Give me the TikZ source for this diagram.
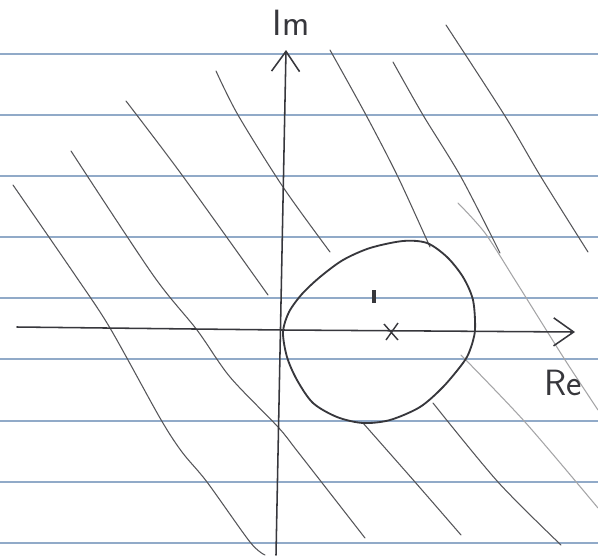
\documentclass[tikz,border=0pt]{standalone}
\usepackage{xcolor}
\usepackage{tikz}
\usetikzlibrary{arrows.meta}

\definecolor{ruled}{RGB}{145,170,200}
\definecolor{pen}{RGB}{55,55,60}

\begin{document}
\begin{tikzpicture}[
  x=0.025cm, y=-0.025cm,
  ruling/.style={ruled, line width=0.8pt},
  axis/.style={pen, line width=1.1pt, line cap=round,
               -{Straight Barb[length=0.5cm, width=0.7cm]}},
  hatch/.style={pen!85, line width=0.75pt, smooth, line cap=round},
  faint/.style={hatch, pen!45},
  contour/.style={pen, line width=1.3pt, smooth cycle},
  lbl/.style={font=\sffamily\fontsize{26}{26}\selectfont, text=pen, inner sep=0pt}
]
\fill[white] (0,0) rectangle (598,555);
\useasboundingbox (0,0) rectangle (598,555);

% ruled paper
\foreach \y in {54,115,176,237,298,359,421,482,543}
  \draw[ruling] (0,\y) -- (598,\y);

% hatching
\draw[hatch] plot coordinates {(13,185) (75,275) (110,328) (160,418) (182,452) (207,482) (250,542) (265,555)};
\draw[hatch] plot coordinates {(71,151) (153,275) (197,330) (230,377) (278,427) (298,452) (365,538)};
\draw[hatch] plot coordinates {(126,101) (182,175) (268,295)};
\draw[hatch] plot coordinates {(216,71) (238,115) (283,187) (330,252)};
\draw[hatch] plot coordinates {(330,50) (366,115) (398,177) (430,247)};
\draw[hatch] plot coordinates {(393,62) (423,115) (461,177) (500,253)};
\draw[faint] plot coordinates {(458,203) (485,233) (515,280) (540,320) (567,363) (598,410)};
\draw[hatch] plot coordinates {(446,25) (505,116) (541,177) (588,252)};
\draw[hatch] plot coordinates {(363,423) (415,482) (461,535)};
\draw[hatch] plot coordinates {(433,403) (498,482) (561,545)};
\draw[faint] plot coordinates {(461,355) (525,422) (598,508)};

% axes
\coordinate (imlo) at (276,555);
\coordinate (imhi) at (286,50);
\coordinate (relo) at (17,327);
\coordinate (rehi) at (575,332);
\draw[axis] (imlo) -- (imhi);
\draw[axis] (relo) -- (283,330) -- (rehi);
\node[lbl] (im) at (291,23) {Im};
\node[lbl] (re) at (563,383) {Re};

% contour
\draw[contour] plot coordinates {(283,332) (289,312) (302,294) (320,277) (343,260)
  (370,248) (403,241) (427,243) (447,257) (463,277) (473,300) (475,330)
  (470,350) (463,363) (443,387) (420,407) (390,420) (363,423) (337,417)
  (313,403) (297,380) (287,357)};

% pole and tick
\coordinate (pole) at (391,332);
\draw[pen, line width=1pt] (pole) ++(-7,-8) -- ++(14,16) (pole) ++(7,-9) -- ++(-12,17);
\draw[pen, line width=2.2pt] (374,290) -- (374,303);
\end{tikzpicture}
\end{document}
